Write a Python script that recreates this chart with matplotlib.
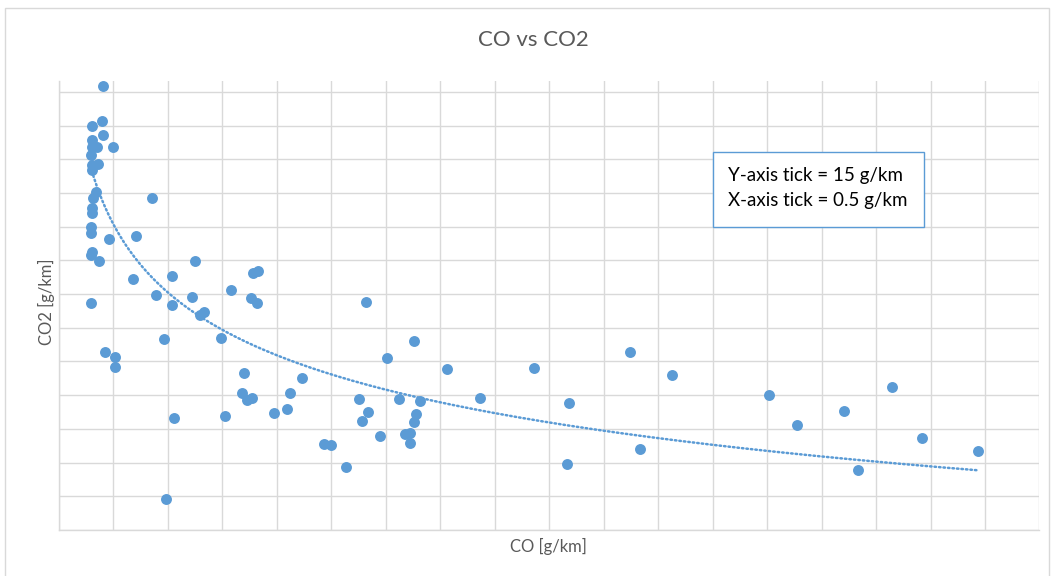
import numpy as np
import matplotlib.pyplot as plt
from matplotlib.patches import Rectangle

# 讀圖估出的數據 (CO, CO2 單位 g/km)
co = [0.40, 0.39, 0.30, 0.40, 0.50, 0.30, 0.30, 0.35, 0.29, 0.30,
      0.36, 0.30, 0.34, 0.31, 0.30, 0.30, 0.29, 0.29, 0.85, 0.46,
      0.71, 0.30, 0.29, 0.37, 1.25, 0.68, 1.04, 1.78, 1.83, 0.89,
      1.22, 1.04, 1.58, 1.76, 1.82, 0.29, 1.29, 1.33, 0.96, 1.49,
      0.42, 0.51, 0.51, 1.70, 2.23, 1.68, 1.73, 1.77, 2.12, 1.97,
      2.09, 1.52, 1.06, 0.98, 2.82, 3.26, 3.01, 3.56, 2.75, 3.12,
      3.31, 2.84, 3.28, 2.78, 3.26, 2.95, 3.18, 3.22, 3.22, 2.43,
      2.50, 2.63, 3.86, 4.36, 4.68, 4.66, 5.24, 5.33, 5.63, 6.52,
      6.77, 7.21, 7.65, 7.92, 8.44, 7.33]
co2 = [447.8, 432.0, 429.8, 425.8, 420.6, 423.6, 420.5, 420.3, 416.9, 412.5,
       412.8, 410.2, 400.6, 397.6, 393.2, 391.2, 385.0, 382.3, 397.6, 379.5,
       380.9, 373.9, 372.4, 369.9, 369.7, 361.7, 363.1, 364.3, 365.1, 354.5,
       353.8, 350.1, 356.8, 353.1, 350.9, 350.9, 345.7, 346.9, 334.9, 335.3,
       329.1, 326.9, 322.4, 319.7, 317.5, 310.8, 307.9, 308.9, 311.1, 302.2,
       303.7, 300.9, 300.0, 263.8, 351.3, 334.0, 326.6, 321.7, 308.3, 308.3,
       307.6, 302.4, 301.6, 298.4, 297.9, 291.8, 292.6, 293.0, 288.9, 288.1,
       287.7, 278.0, 308.8, 322.0, 306.4, 279.4, 329.4, 286.1, 319.0, 310.0,
       296.7, 303.0, 313.6, 290.9, 285.2, 276.8]

# Excel 冪次趨勢線 y = a * x^b (係數從圖上量出來)
trend_a = 355.7
trend_b = -0.118

blue = '#5B9BD5'
grid_c = '#D9D9D9'
text_c = '#595959'

plt.rcParams['font.family'] = ['Lato', 'DejaVu Sans']

fig = plt.figure(figsize=(10.54, 5.76), dpi=100)
ax = fig.add_axes([0.056, 0.0799, 0.9302, 0.78])

ax.scatter(co, co2, s=62, color=blue, zorder=3, linewidths=0)

# 趨勢線只畫在數據的 x 範圍內
xs = np.linspace(min(co), max(co), 300)
ax.plot(xs, trend_a * xs ** trend_b, color=blue, lw=1.8,
        linestyle=(0, (0.6, 1.2)), dash_capstyle='round', zorder=2)

ax.set_xlim(0, 9)
ax.set_ylim(250, 450)
ax.set_xticks(np.arange(0, 9.01, 0.5))
ax.set_yticks(np.arange(250, 450, 15))
ax.tick_params(length=0, labelbottom=False, labelleft=False)
ax.grid(True, color=grid_c, lw=1.0)
ax.set_axisbelow(True)
for side in ['top', 'right']:
    ax.spines[side].set_visible(False)
for side in ['left', 'bottom']:
    ax.spines[side].set_color(grid_c)
    ax.spines[side].set_linewidth(1.0)

# 標題和軸標籤
fig.text(0.506, 0.9297, 'CO vs CO2', ha='center', va='center',
         fontsize=16, color=text_c)
fig.text(0.5202, 0.0509, 'CO [g/km]', ha='center', va='center',
         fontsize=12, color=text_c)
fig.text(0.0443, 0.4766, 'CO2 [g/km]', ha='center', va='center',
         fontsize=12, color=text_c, rotation=90)

# 說明方框
fig.patches.append(Rectangle((713 / 1054, 1 - 227 / 576), 211 / 1054, 75 / 576,
                             transform=fig.transFigure, fill=True,
                             facecolor='white', edgecolor=blue, lw=1.0,
                             zorder=5))
fig.text(728 / 1054, 1 - 175 / 576, 'Y-axis tick = 15 g/km', ha='left',
         va='center', fontsize=13.5, color='black', zorder=6)
fig.text(728 / 1054, 1 - 201 / 576, 'X-axis tick = 0.5 g/km', ha='left',
         va='center', fontsize=13.5, color='black', zorder=6)

# 圖表外框
fig.patches.append(Rectangle((5 / 1054, -0.01), 1044 / 1054, 1.01 - 8 / 576,
                             transform=fig.transFigure, fill=False,
                             edgecolor=grid_c, lw=1.0))

fig.savefig('out.png', dpi=100)
